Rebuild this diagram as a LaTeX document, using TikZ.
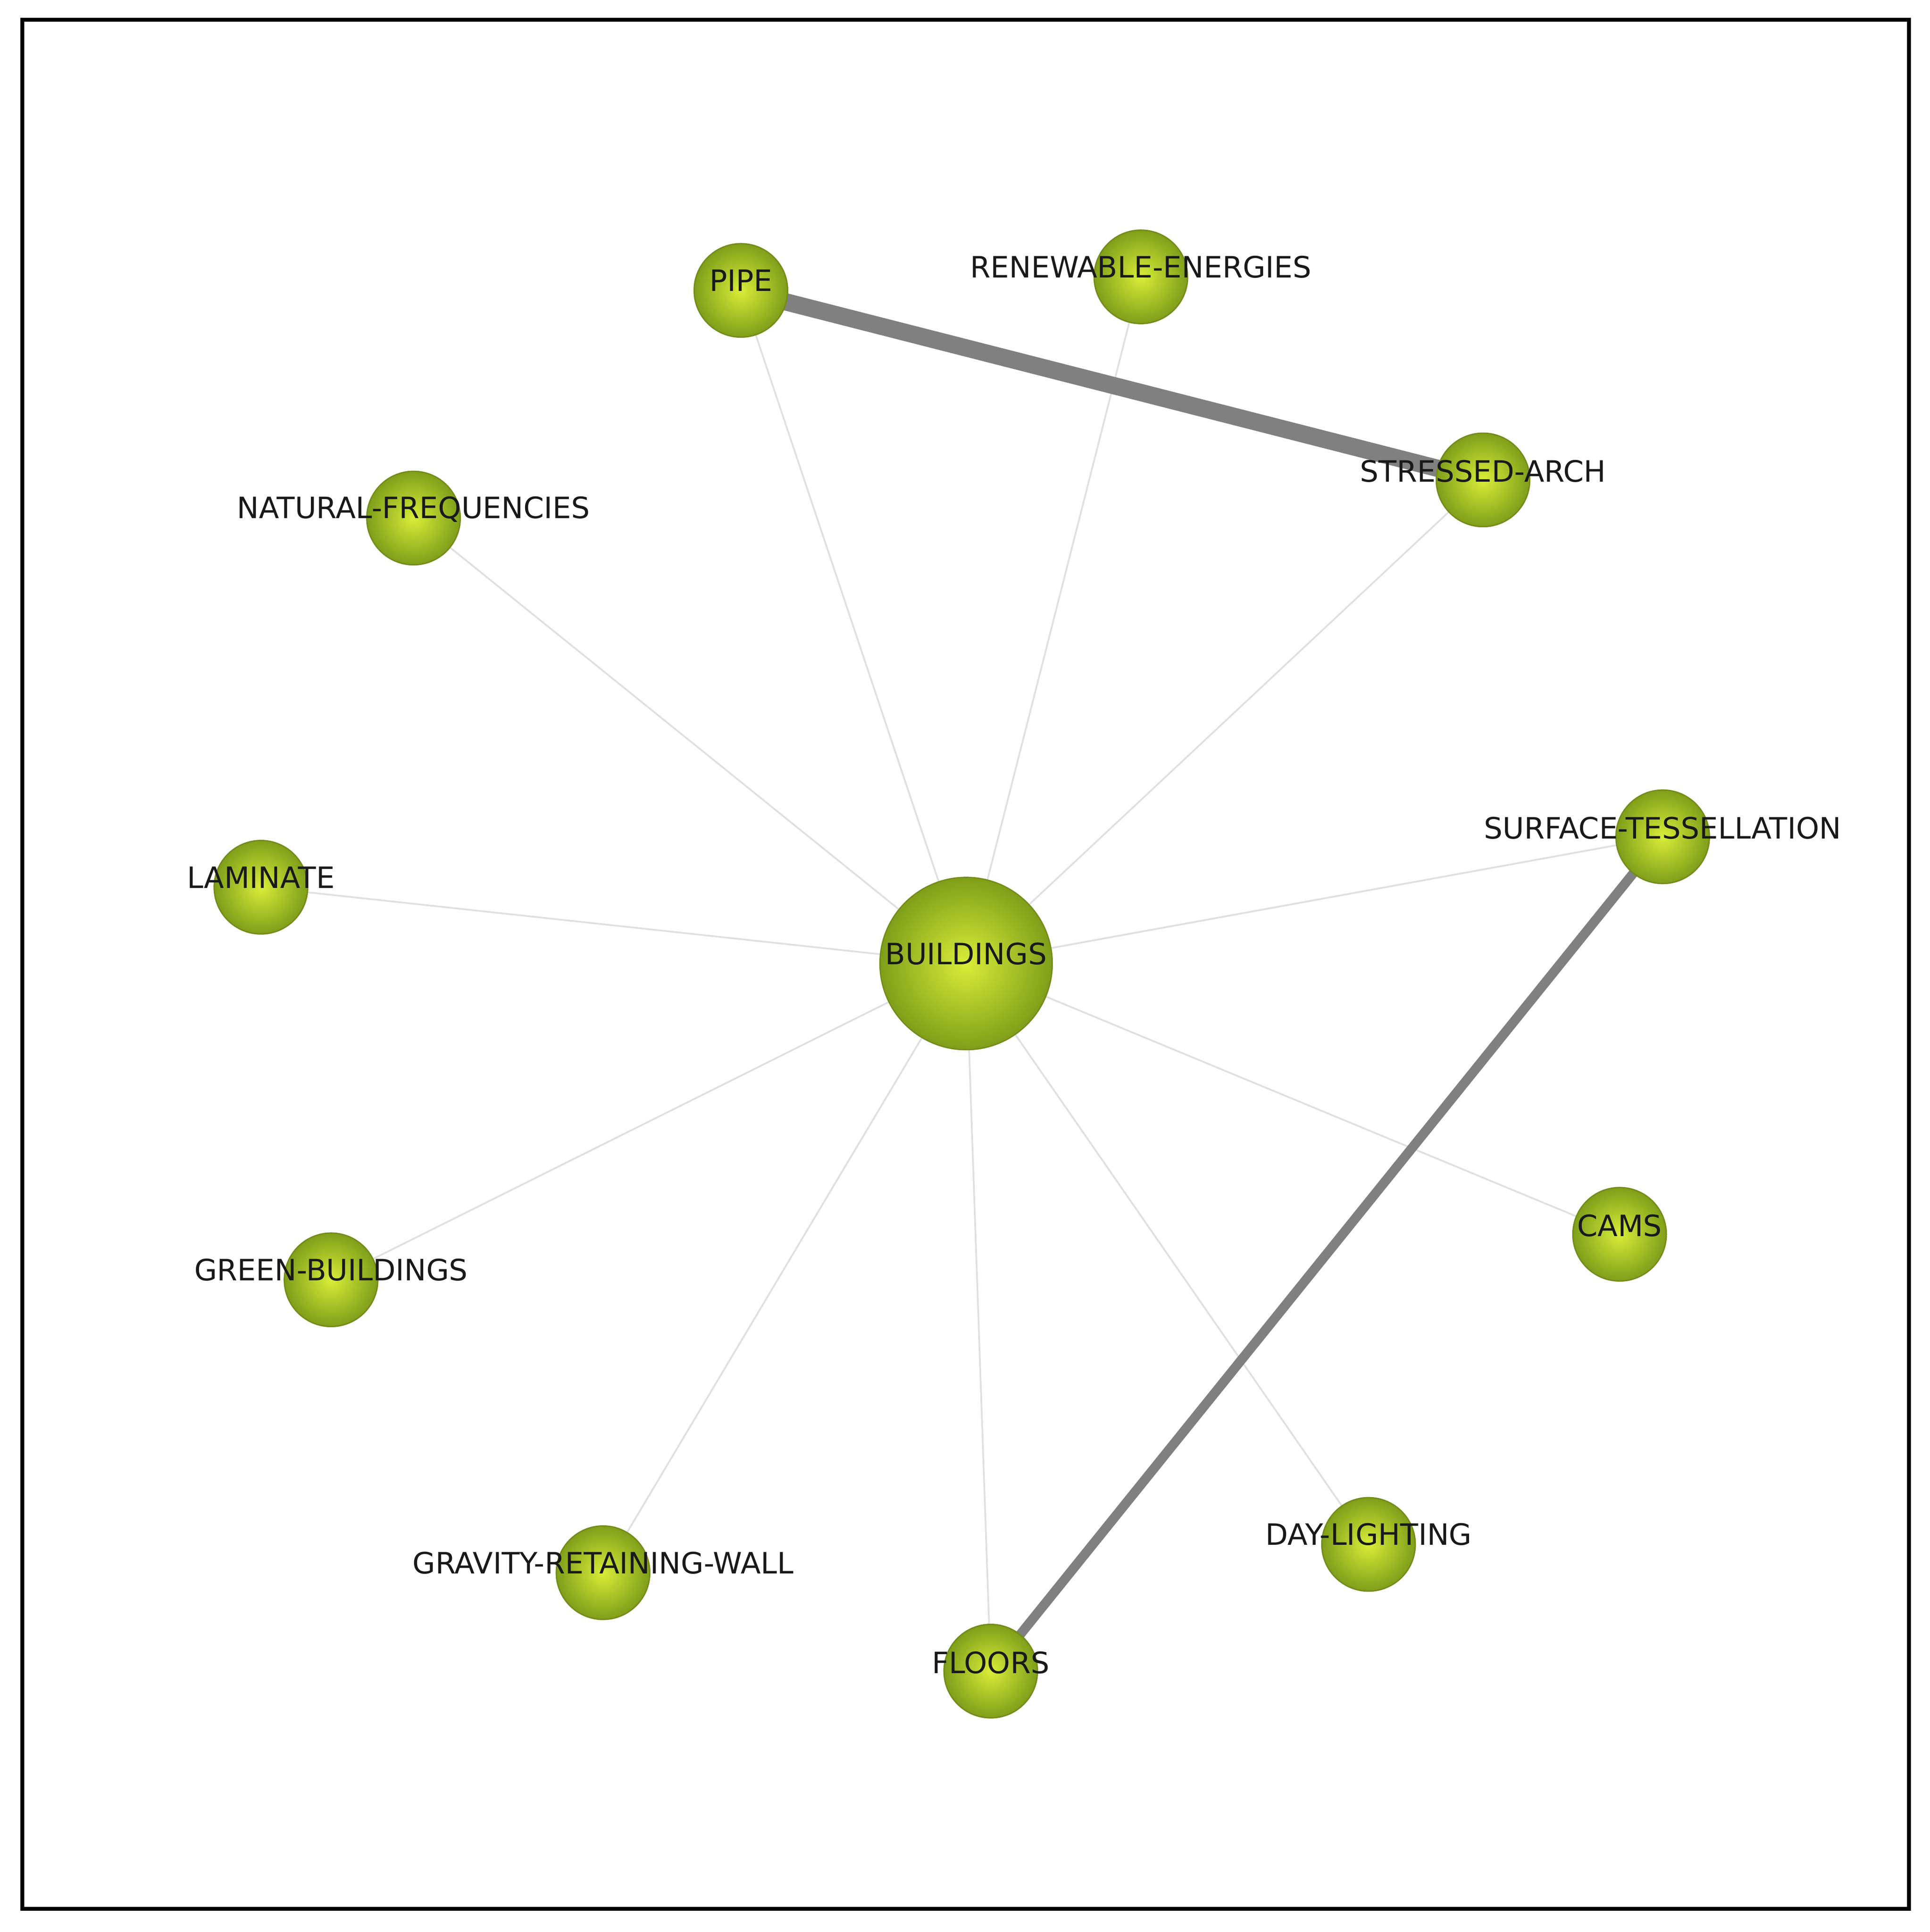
\documentclass[tikz,border=0pt]{standalone}
\usepackage{fontspec}
\setmainfont{DejaVu Sans}
\pgfdeclarelayer{background}
\pgfsetlayers{background,main}
\begin{document}
\begin{tikzpicture}[x=0.1mm,y=-0.1mm,
  ball/.style={circle,inner sep=0pt,minimum size=#1,inner color={rgb,1:red,0.85;green,0.93;blue,0.22},outer color={rgb,1:red,0.5;green,0.62;blue,0.1},draw={rgb,1:red,0.45;green,0.55;blue,0.1},line width=0.3pt},
  ball/.default=7.6mm,
  lab/.style={font=\fontsize{6.8pt}{8pt}\selectfont,text={rgb,1:red,0.1;green,0.1;blue,0.1},inner sep=0pt},
  thin/.style={draw=black!12,line width=0.4pt},
  heavy/.style={draw=black!50,line cap=butt}]
\useasboundingbox (0,0) rectangle (1568,1570);
\draw[line width=0.9pt] (18,16) rectangle (1551,1551);
\node[ball=14mm] (b) at (785,783) {};
\node[ball] (pipe) at (602,236) {};
\node[ball] (ren) at (927,225) {};
\node[ball] (arch) at (1205,390) {};
\node[ball] (nat) at (336,421) {};
\node[ball] (surf) at (1351,680) {};
\node[ball] (lam) at (212,721) {};
\node[ball] (cams) at (1316,1003) {};
\node[ball] (green) at (269,1040) {};
\node[ball] (day) at (1112,1255) {};
\node[ball] (grav) at (490,1278) {};
\node[ball] (floors) at (805,1358) {};
\begin{pgfonlayer}{background}
\foreach \n in {pipe,ren,arch,nat,surf,lam,cams,green,day,grav,floors}
  \draw[thin] (b.center) -- (\n.center);
\draw[heavy,line width=4pt] (pipe.center) -- (arch.center);
\draw[heavy,line width=2.2pt] (surf.center) -- (floors.center);
\end{pgfonlayer}
\node[lab] (tb) at (785,775) {BUILDINGS};
\node[lab] (tp) at (602,228) {PIPE};
\node[lab] (tr) at (927,217) {RENEWABLE-ENERGIES};
\node[lab] (ta) at (1205,383) {STRESSED-ARCH};
\node[lab] (tn) at (336,414) {NATURAL-FREQUENCIES};
\node[lab] (ts) at (1351,673) {SURFACE-TESSELLATION};
\node[lab] (tl) at (212,713) {LAMINATE};
\node[lab] (tc) at (1316,996) {CAMS};
\node[lab] (tg) at (269,1032) {GREEN-BUILDINGS};
\node[lab] (td) at (1112,1247) {DAY-LIGHTING};
\node[lab] (tw) at (490,1270) {GRAVITY-RETAINING-WALL};
\node[lab] (tf) at (805,1351) {FLOORS};
\end{tikzpicture}
\end{document}
